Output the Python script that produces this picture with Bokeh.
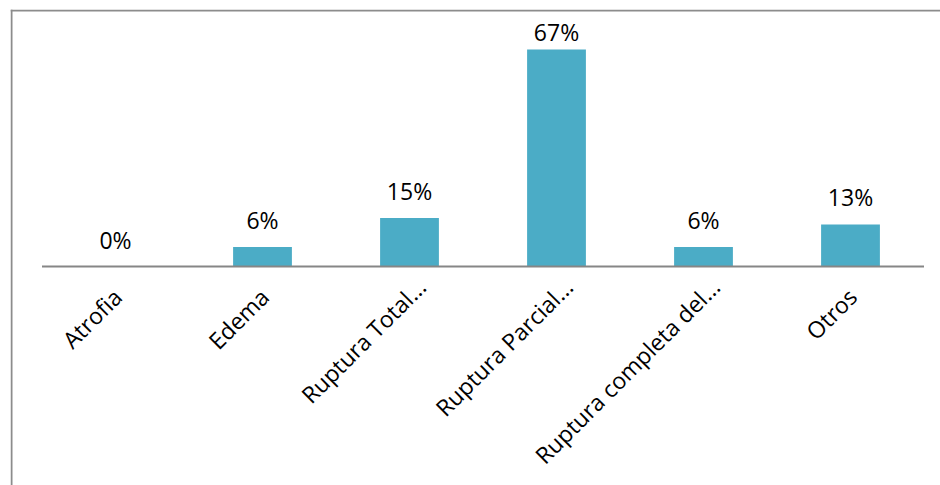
import math
from bokeh.plotting import figure
from bokeh.models import ColumnDataSource, Range1d, Span
from bokeh.core.properties import value
from bokeh.embed import file_html
from bokeh.resources import INLINE

# ---- data ----
categories = ["Atrofia", "Edema", "Ruptura Total...", "Ruptura Parcial...",
              "Ruptura completa del...", "Otros"]
percentages = [0, 6, 15, 67, 6, 13]
value_labels = [f"{v}%" for v in percentages]

# ---- layout constants ----
W, H = 940, 485
BORDER_L, BORDER_T = 10, 9
PX_PER_CAT = 147.0
FIRST_CENTER_PX = 115.0 - BORDER_L     # from frame left
BASELINE_PX = 266.0 - BORDER_T         # from frame top
PX_PER_UNIT = 217.0 / 67.0
LABEL_GAP_PX = 19.0                    # gap between bar top and value label
LABEL_MAX_PX = 266.0 - 39.5            # highest label baseline above axis (clamped like Excel)

frame_w = W - BORDER_L
frame_h = H - BORDER_T
x_start = -FIRST_CENTER_PX / PX_PER_CAT
x_end = x_start + frame_w / PX_PER_CAT
y_end = BASELINE_PX / PX_PER_UNIT
y_start = -(frame_h - BASELINE_PX) / PX_PER_UNIT

xs = list(range(len(categories)))
label_y = [min(v + LABEL_GAP_PX / PX_PER_UNIT, LABEL_MAX_PX / PX_PER_UNIT) for v in percentages]
# truncated labels ("...") sit a little further along their direction in the original
shift = [14.0 if c.endswith("...") else 0.0 for c in categories]
cat_xo = [2 + s * 0.7071 for s in shift]
cat_yo = [26 - s * 0.7071 for s in shift]

src = ColumnDataSource(dict(x=xs, top=percentages, lab=value_labels, ly=label_y,
                            cat=categories, cxo=cat_xo, cyo=cat_yo))

p = figure(width=W, height=H, output_backend="svg", toolbar_location=None,
           x_range=Range1d(x_start, x_end), y_range=Range1d(y_start, y_end),
           min_border_left=BORDER_L, min_border_right=0,
           min_border_top=BORDER_T, min_border_bottom=0)
p.axis.visible = False
p.grid.visible = False
p.outline_line_color = None
p.background_fill_color = "white"
p.border_fill_color = "white"

# frame lines (top and left)
frame_color = "#8c8c8c"
p.add_layout(Span(location=x_start + 1.0 / PX_PER_CAT, dimension="height",
                  line_color=frame_color, line_width=2))
p.add_layout(Span(location=y_end - 1.0 / PX_PER_UNIT, dimension="width",
                  line_color=frame_color, line_width=2))

# bars
p.vbar(x="x", top="top", bottom=0, width=0.4, source=src,
       fill_color="#4BACC6", line_color=None)

# baseline (category axis line)
n = len(categories)
p.segment(x0=[-0.5], y0=[0], x1=[n - 0.5], y1=[0], line_color="#868686", line_width=2)

# value labels
p.text(x="x", y="ly", text="lab", source=src, text_align="center",
       text_baseline="alphabetic", y_offset=-8,
       text_font=value("Open Sans"), text_font_size="23px", text_color="black")

# category labels rotated 45 degrees
p.text(x="x", y=0, text="cat", source=src, angle=math.pi / 4,
       text_align="right", text_baseline="middle", x_offset="cxo", y_offset="cyo",
       text_font=value("Open Sans"), text_font_size="23px", text_color="black")

open("out.html", "w").write(file_html(p, INLINE))
